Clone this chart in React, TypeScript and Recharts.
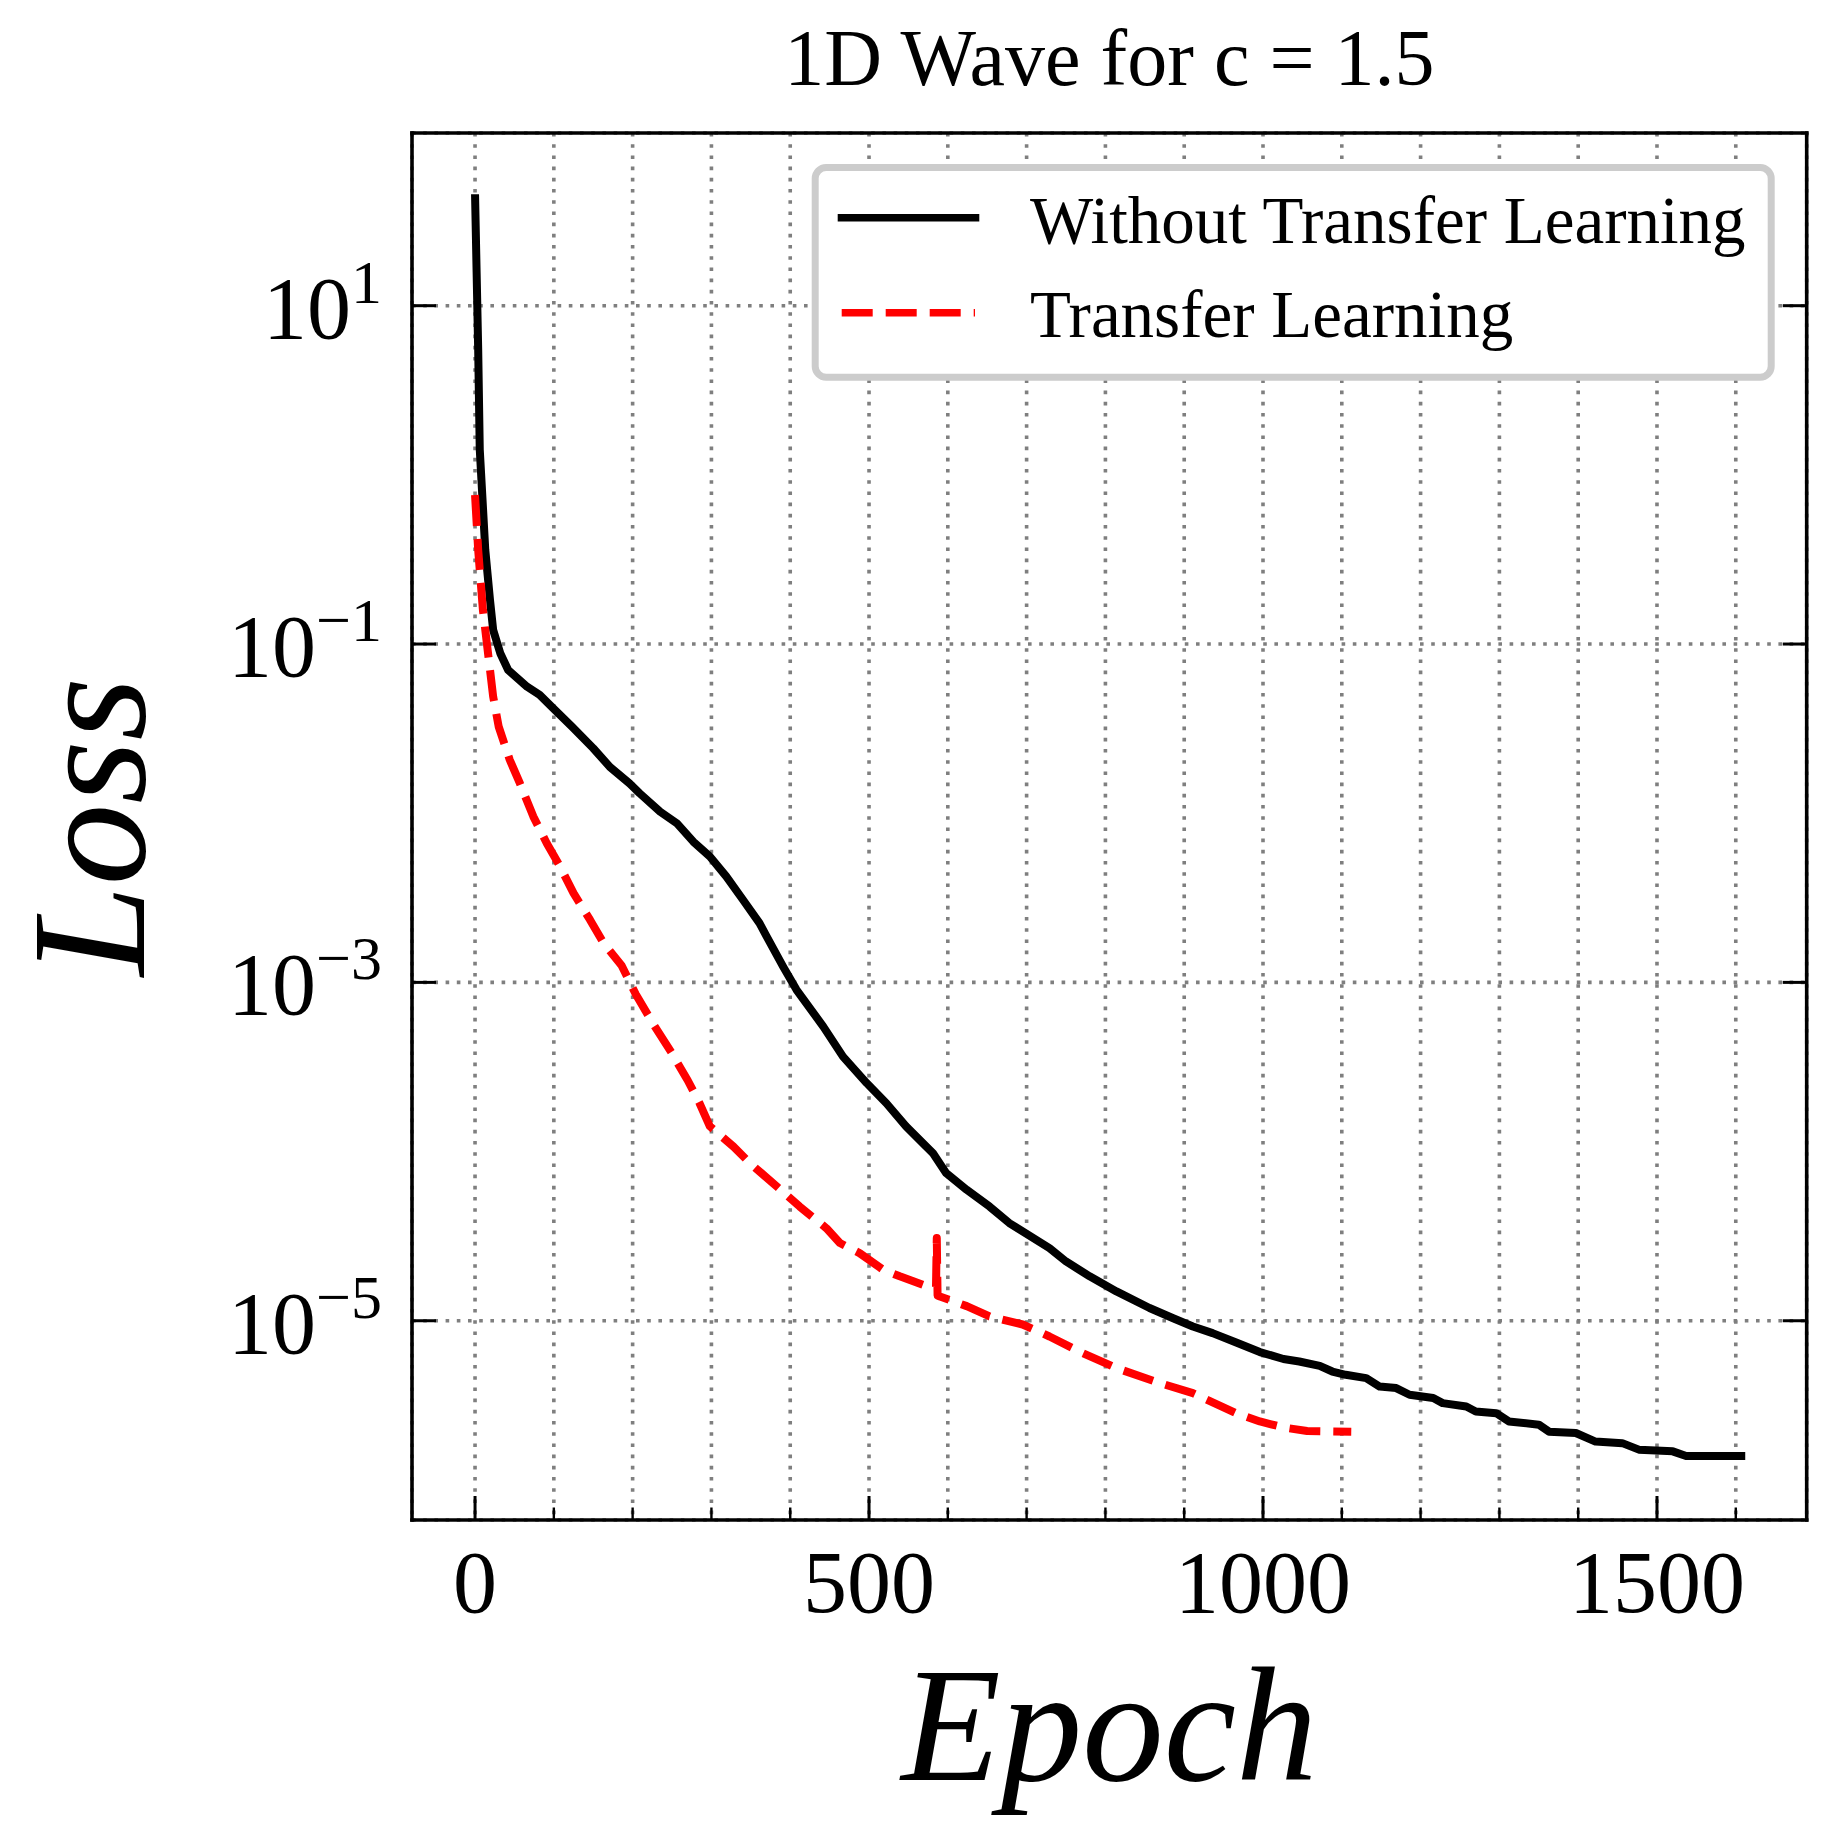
import { LineChart, Line, XAxis, YAxis, CartesianGrid, Legend } from 'recharts';

// ─── Data ─────────────────────────────────────────────────────────────────────

const TITLE = '1D Wave for c = 1.5';
const X_LABEL = 'Epoch';
const Y_LABEL = 'Loss';

const xTicks = [0, 100, 200, 300, 400, 500, 600, 700, 800, 900, 1000, 1100, 1200, 1300, 1400, 1500, 1600];
const xMajorTicks = [0, 500, 1000, 1500];
const yTicks = [1e-5, 1e-3, 1e-1, 1e1];
const yTickExponents = ['−5', '−3', '−1', '1'];

const withoutEpochs = [
  0, 2, 4, 6, 13, 19, 23, 32, 42, 66,
  82, 99, 123, 150, 171, 196, 209, 235, 256, 277,
  298, 319, 340, 361, 370, 391, 408, 442, 467, 497,
  522, 547, 581, 598, 624, 653, 678, 729, 750, 780,
  814, 856, 886, 911, 936, 966, 996, 1026, 1046, 1072,
  1088, 1105, 1131, 1148, 1169, 1186, 1216, 1228, 1258, 1270,
  1296, 1312, 1350, 1363, 1397, 1422, 1456, 1477, 1520, 1537,
  1612,
];
const withoutLoss = [
  45.6, 15.8, 5.5, 1.41, 0.36, 0.182, 0.121, 0.0883, 0.0703, 0.056,
  0.0501, 0.0418, 0.0325, 0.0242, 0.0188, 0.015, 0.0131, 0.0102, 0.00873, 0.00679,
  0.00555, 0.00422, 0.00308, 0.00224, 0.00187, 0.00124, 9.04e-4, 5.48e-4, 3.64e-4, 2.54e-4,
  1.93e-4, 1.41e-4, 9.8e-5, 7.45e-5, 5.94e-5, 4.73e-5, 3.78e-5, 2.69e-5, 2.24e-5, 1.83e-5,
  1.49e-5, 1.19e-5, 1.035e-5, 9.25e-6, 8.45e-6, 7.43e-6, 6.53e-6, 5.94e-6, 5.74e-6, 5.41e-6,
  5.01e-6, 4.79e-6, 4.58e-6, 4.08e-6, 4.0e-6, 3.65e-6, 3.49e-6, 3.26e-6, 3.11e-6, 2.91e-6,
  2.84e-6, 2.54e-6, 2.43e-6, 2.21e-6, 2.17e-6, 1.93e-6, 1.89e-6, 1.73e-6, 1.69e-6, 1.585e-6,
  1.585e-6,
];

const transferEpochs = [
  0, 4, 10, 17, 23, 30, 44, 57, 74, 91,
  108, 125, 146, 163, 186, 204, 227, 250, 270, 285,
  298, 328, 349, 383, 412, 446, 463, 488, 518, 539,
  573, 585, 586, 587, 590, 624, 653, 695, 729, 771,
  814, 869, 911, 966, 996, 1026, 1056, 1112,
];
const transferLoss = [
  0.76, 0.36, 0.159, 0.0843, 0.0489, 0.0325, 0.0207, 0.015, 0.00955, 0.00665,
  0.00483, 0.00337, 0.00234, 0.00171, 0.00126, 8.5e-4, 5.6e-4, 3.8e-4, 2.63e-4, 1.93e-4,
  1.41e-4, 1.07e-4, 8.53e-5, 6.21e-5, 4.73e-5, 3.52e-5, 2.88e-5, 2.51e-5, 2.0e-5, 1.83e-5,
  1.6e-5, 1.585e-5, 3.08e-5, 1.41e-5, 1.39e-5, 1.22e-5, 1.06e-5, 9.5e-6, 8.07e-6, 6.44e-6,
  5.25e-6, 4.28e-6, 3.73e-6, 2.84e-6, 2.54e-6, 2.34e-6, 2.23e-6, 2.21e-6,
];

// ─── Layout ───────────────────────────────────────────────────────────────────

const SERIF = '"Liberation Serif", "Times New Roman", Times, serif';
const W = 1836;
const H = 1847;
// plot box: left 412, top 133, right 1806.7, bottom 1520 (axes take 1px each)
const MARGIN = { top: 132, right: 28.3, bottom: 326, left: 411 };
const PLOT_CX = (412 + 1806.7) / 2;
const PLOT_CY = (133 + 1520) / 2;

const X_DOMAIN = [-80, 1690];
const Y_DOMAIN = [6.64e-7, 104.9];

const SERIES = [
  { name: 'Without Transfer Learning', color: '#000000', dash: undefined },
  { name: 'Transfer Learning', color: '#ff0000', dash: '31 13' },
];

const withoutData = withoutEpochs.map((epoch, i) => ({ epoch, loss: withoutLoss[i] }));
const transferData = transferEpochs.map((epoch, i) => ({ epoch, loss: transferLoss[i] }));

// ─── Ticks ────────────────────────────────────────────────────────────────────

function BottomTick({ x, y, payload }: any) {
  const major = xMajorTicks.includes(payload.value);
  return (
    <g>
      <line x1={x} x2={x} y1={y} y2={y - (major ? 24 : 12.5)} stroke="#000" strokeWidth={major ? 3 : 2.4} />
      {major && (
        <text x={x} y={y + 92} textAnchor="middle" fontFamily={SERIF} fontSize={88} fill="#000">
          {payload.value}
        </text>
      )}
    </g>
  );
}

function TopTick({ x, y, payload }: any) {
  const major = xMajorTicks.includes(payload.value);
  return <line x1={x} x2={x} y1={y} y2={y + (major ? 24 : 12.5)} stroke="#000" strokeWidth={major ? 3 : 2.4} />;
}

function LeftTick({ x, y, payload }: any) {
  const i = yTicks.findIndex((t) => Math.abs(Math.log10(t) - Math.log10(payload.value)) < 0.01);
  return (
    <g>
      <line x1={x} x2={x + 24} y1={y} y2={y} stroke="#000" strokeWidth={3} />
      <text x={x - 30} y={y + 32} textAnchor="end" fontFamily={SERIF} fontSize={88} fill="#000">
        <tspan>10</tspan>
        <tspan dy={-35} fontSize={62}>{yTickExponents[i]}</tspan>
      </text>
    </g>
  );
}

function RightTick({ x, y }: any) {
  return <line x1={x} x2={x - 24} y1={y} y2={y} stroke="#000" strokeWidth={3} />;
}

// ─── Labels ───────────────────────────────────────────────────────────────────

function TitleText() {
  return (
    <text x={PLOT_CX} y={85} textAnchor="middle" fontFamily={SERIF} fontSize={80} fill="#000">
      {TITLE}
    </text>
  );
}

function XLabelText() {
  return (
    <text x={PLOT_CX} y={1780} textAnchor="middle" fontFamily={SERIF} fontStyle="italic" fontSize={163} fill="#000">
      {X_LABEL}
    </text>
  );
}

function YLabelText() {
  return (
    <text
      x={144}
      y={PLOT_CY}
      transform={`rotate(-90, 144, ${PLOT_CY})`}
      textAnchor="middle"
      fontFamily={SERIF}
      fontStyle="italic"
      fontSize={163}
      fill="#000"
    >
      {Y_LABEL}
    </text>
  );
}

// ─── Legend ───────────────────────────────────────────────────────────────────

function LegendBox() {
  return (
    <svg width={966} height={219} style={{ display: 'block' }}>
      <rect x={5.2} y={4.5} width={956} height={209.7} rx={11} fill="#fff" stroke="#cccccc" strokeWidth={7} />
      {SERIES.map((s, i) => (
        <g key={s.name}>
          <line
            x1={s.dash ? 31.7 : 27.7}
            x2={s.dash ? 165 : 169.3}
            y1={54.7 + i * 95}
            y2={54.7 + i * 95}
            stroke={s.color}
            strokeWidth={7.5}
            strokeDasharray={s.dash}
          />
          <text x={220} y={80.3 + i * 93.4} fontFamily={SERIF} fontSize={67} fill="#000">
            {s.name}
          </text>
        </g>
      ))}
    </svg>
  );
}

// ─── Chart ────────────────────────────────────────────────────────────────────

const axisLine = { stroke: '#000', strokeWidth: 3.6, strokeLinecap: 'square' as const };

export default function App() {
  return (
    <div style={{ position: 'absolute', left: 0, top: 0, width: W, height: H, background: '#fff' }}>
      <LineChart width={W} height={H} margin={MARGIN}>
        <CartesianGrid stroke="#7f7f7f" strokeWidth={3.6} strokeDasharray="3.6 7.6" />
        <XAxis
          dataKey="epoch"
          type="number"
          domain={X_DOMAIN}
          allowDataOverflow
          ticks={xTicks}
          interval={0}
          height={1}
          tickSize={0}
          tickMargin={0}
          tickLine={false}
          axisLine={axisLine}
          tick={<BottomTick />}
          label={<XLabelText />}
        />
        <XAxis
          xAxisId="top"
          orientation="top"
          type="number"
          domain={X_DOMAIN}
          allowDataOverflow
          ticks={xTicks}
          interval={0}
          height={1}
          tickSize={0}
          tickMargin={0}
          tickLine={false}
          axisLine={axisLine}
          tick={<TopTick />}
          label={<TitleText />}
        />
        <YAxis
          type="number"
          scale="log"
          domain={Y_DOMAIN}
          allowDataOverflow
          ticks={yTicks}
          interval={0}
          width={1}
          tickSize={0}
          tickMargin={0}
          tickLine={false}
          axisLine={axisLine}
          tick={<LeftTick />}
          label={<YLabelText />}
        />
        <YAxis
          yAxisId="right"
          orientation="right"
          type="number"
          scale="log"
          domain={Y_DOMAIN}
          allowDataOverflow
          ticks={yTicks}
          interval={0}
          width={1}
          tickSize={0}
          tickMargin={0}
          tickLine={false}
          axisLine={axisLine}
          tick={<RightTick />}
        />
        <Line
          data={withoutData}
          dataKey="loss"
          name={SERIES[0].name}
          type="linear"
          stroke={SERIES[0].color}
          strokeWidth={8}
          strokeLinejoin="round"
          dot={false}
          activeDot={false}
          isAnimationActive={false}
        />
        <Line
          data={transferData}
          dataKey="loss"
          name={SERIES[1].name}
          type="linear"
          stroke={SERIES[1].color}
          strokeWidth={8}
          strokeDasharray={SERIES[1].dash}
          strokeLinejoin="round"
          dot={false}
          activeDot={false}
          isAnimationActive={false}
        />
        <Legend
          layout="vertical"
          align="center"
          verticalAlign="middle"
          content={<LegendBox />}
          wrapperStyle={{ position: 'absolute', left: 810, top: 163, width: 966, height: 219 }}
        />
      </LineChart>
    </div>
  );
}
